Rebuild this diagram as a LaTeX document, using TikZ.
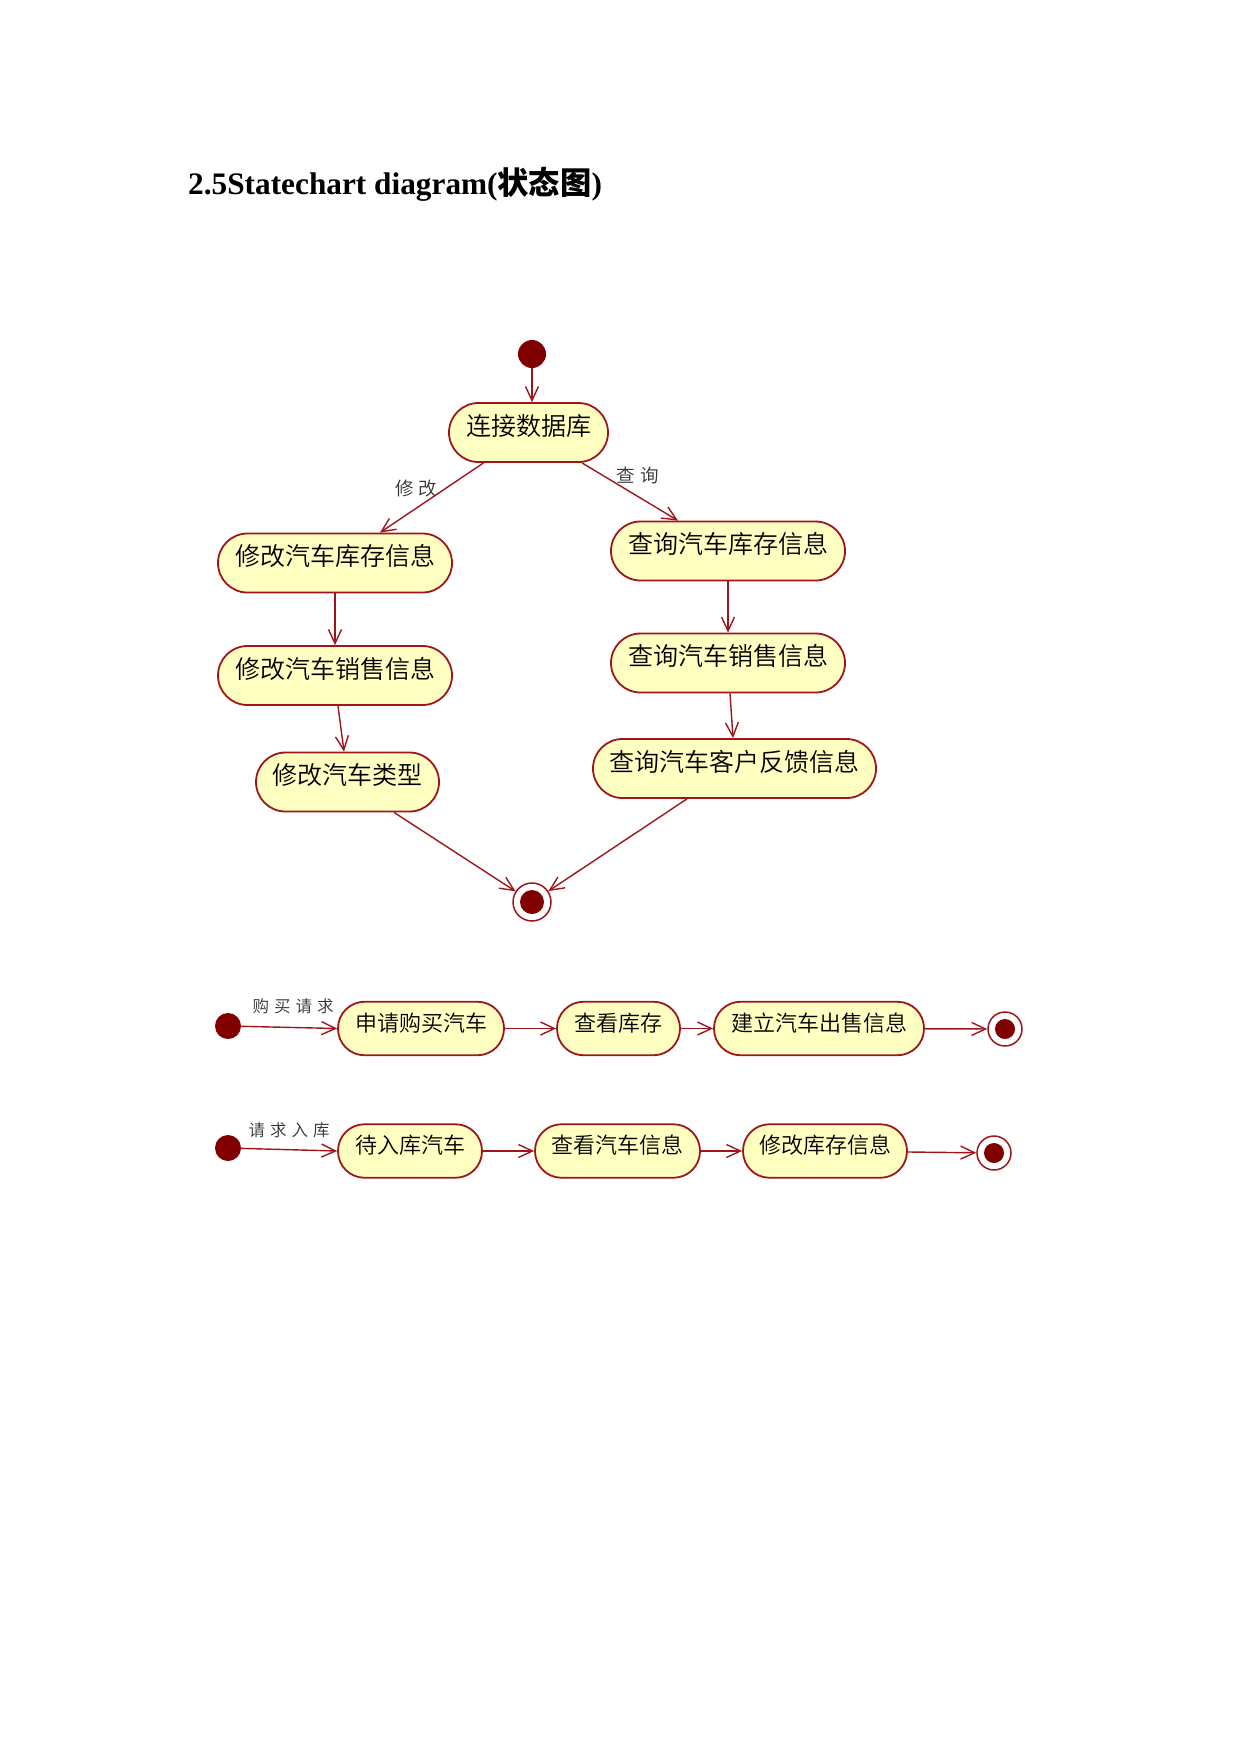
\documentclass[tikz,border=0pt]{standalone}
\usepackage{fontspec}
\setmainfont{Liberation Serif}
\newfontfamily\cjk{Noto Sans CJK SC}
\newfontfamily\cjklight{Noto Sans CJK SC}[UprightFont={* DemiLight}]
\usetikzlibrary{arrows.meta}
\definecolor{stfill}{RGB}{255,255,194}
\definecolor{stline}{RGB}{158,22,28}
\definecolor{dotred}{RGB}{128,0,0}
\definecolor{lbl}{RGB}{50,50,50}
\newcommand\rtxt[2]{\raisebox{#1}[0pt][0pt]{#2}}
\newcommand\gp{\hspace{5pt}}
\begin{document}
\begin{tikzpicture}[x=1pt,y=-1pt,
  bigstate/.style={draw=stline, line width=1.8pt, fill=stfill, rounded corners=29.5pt,
    inner sep=0pt, minimum height=59pt, font=\cjklight\fontsize{25}{25}\selectfont},
  smallstate/.style={draw=stline, line width=1.8pt, fill=stfill, rounded corners=26.5pt,
    inner sep=0pt, minimum height=53.5pt, font=\cjklight\fontsize{22}{22}\selectfont},
  initst/.style={circle, fill=dotred, inner sep=0pt, minimum size=#1},
  finalst/.style={circle, draw=stline, line width=1.5pt, fill=white, inner sep=0pt,
    minimum size=#1,
    path picture={\fill[dotred] (path picture bounding box.center) circle ({#1/2-7pt});}},
  conn/.style={draw=stline, line width=1.4pt, -{Straight Barb[length=14pt,width=13pt,line width=1.4pt]}},
  trlabel/.style={text=lbl, inner sep=0pt, font=\cjklight\fontsize{#1}{#1}\selectfont}
]
\useasboundingbox (0,0) rectangle (1241,1754);

% title
\node[anchor=base west, inner sep=0pt, font=\fontsize{31.3}{31.3}\selectfont\bfseries] (title) at (188,194)
  {2.5Statechart diagram({\cjk\bfseries 状态图})};

% top diagram
\node[initst=28pt] (s0) at (532,354) {};
\node[bigstate, minimum width=159pt] (c0) at (528.5,432.5) {\rtxt{-2.5pt}{连接数据库}};
\node[bigstate, minimum width=234pt] (m1) at (335,563) {\rtxt{-2.5pt}{修改汽车库存信息}};
\node[bigstate, minimum width=234pt] (m2) at (335,675.5) {\rtxt{-2.5pt}{修改汽车销售信息}};
\node[bigstate, minimum width=183pt] (m3) at (347.5,782) {\rtxt{-2.5pt}{修改汽车类型}};
\node[bigstate, minimum width=234pt] (q1) at (728,551) {\rtxt{-2.5pt}{查询汽车库存信息}};
\node[bigstate, minimum width=234pt] (q2) at (728,663) {\rtxt{-2.5pt}{查询汽车销售信息}};
\node[bigstate, minimum width=283pt] (q3) at (734.5,768.5) {\rtxt{-2.5pt}{查询汽车客户反馈信息}};
\node[finalst=38pt] (f1) at (532,902) {};

\node[trlabel=18.5] (lm) at (416.5,488) {修\gp 改};
\node[trlabel=18.5] (lq) at (637.5,475) {查\gp 询};

\draw[conn] (s0) -- (s0 |- c0.north);
\draw[conn] ([xshift=-45pt]c0.south) -- ([xshift=45pt]m1.north);
\draw[conn] ([xshift=53.5pt]c0.south) -- ([xshift=-50pt]q1.north);
\draw[conn] (m1.south) -- (m2.north);
\draw[conn] ([xshift=3pt]m2.south) -- ([xshift=-3.5pt]m3.north);
\draw[conn] (q1.south) -- (q2.north);
\draw[conn] ([xshift=2pt]q2.south) -- ([xshift=-1.5pt]q3.north);
\draw[conn] ([xshift=46.5pt]m3.south) -- (f1);
\draw[conn] ([xshift=-47.5pt]q3.south) -- (f1);

% row 1
\node[initst=26pt] (s1) at (228,1026) {};
\node[smallstate, minimum width=166pt] (b1) at (421,1028.5) {\rtxt{-2.5pt}{申请购买汽车}};
\node[smallstate, minimum width=123pt] (b2) at (618.5,1028.5) {\rtxt{-2.5pt}{查看库存}};
\node[smallstate, minimum width=210pt] (b3) at (819,1028.5) {\rtxt{-2.5pt}{建立汽车出售信息}};
\node[finalst=34pt] (f2) at (1005,1029) {};
\node[trlabel=16.5] (l1) at (293,1006) {购\gp 买\gp 请\gp 求};
\draw[conn] (s1) -- (b1.west);
\draw[conn] (b1) -- (b2);
\draw[conn] (b2) -- (b3);
\draw[conn] (b3) -- (f2);

% row 2
\node[initst=26pt] (s2) at (228,1148) {};
\node[smallstate, minimum width=144pt] (d1) at (410,1151) {\rtxt{-2.5pt}{待入库汽车}};
\node[smallstate, minimum width=165pt] (d2) at (617.5,1151) {\rtxt{-2.5pt}{查看汽车信息}};
\node[smallstate, minimum width=164pt] (d3) at (825,1151) {\rtxt{-2.5pt}{修改库存信息}};
\node[finalst=34pt] (f3) at (994,1153) {};
\node[trlabel=16.5] (l2) at (289,1130) {请\gp 求\gp 入\gp 库};
\draw[conn] (s2) -- (d1.west);
\draw[conn] (d1) -- (d2);
\draw[conn] (d2) -- (d3);
\draw[conn] (d3) -- (f3);
\end{tikzpicture}
\end{document}
